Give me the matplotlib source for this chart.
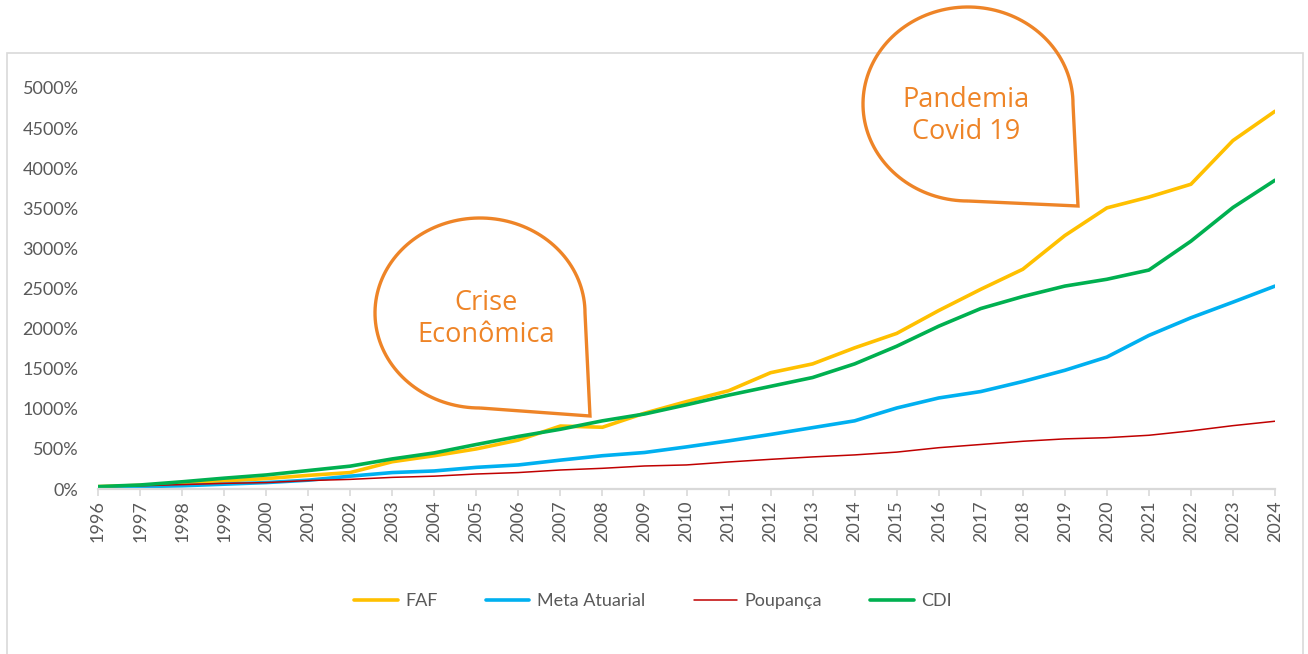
import numpy as np
import matplotlib
matplotlib.use("Agg")
import matplotlib.pyplot as plt
from matplotlib.path import Path
from matplotlib.patches import PathPatch, Rectangle

years = list(range(1996, 2025))
faf = [30, 45, 70, 100, 130, 170, 205, 340, 415, 500, 610, 785, 770, 945, 1090, 1225, 1450, 1560, 1760,
       1940, 2225, 2490, 2740, 3160, 3505, 3640, 3800, 4345, 4710]
meta = [20, 30, 40, 60, 80, 110, 160, 205, 225, 270, 300, 360, 415, 455, 525, 600, 680, 765, 850,
        1010, 1135, 1215, 1340, 1480, 1645, 1915, 2135, 2330, 2530]
poup = [25, 40, 55, 70, 80, 105, 120, 145, 160, 187, 205, 237, 258, 287, 300, 337, 370, 400, 425,
        460, 515, 555, 595, 625, 640, 670, 725, 790, 845]
cdi = [30, 50, 90, 135, 175, 230, 285, 375, 450, 555, 655, 745, 850, 935, 1050, 1170, 1280, 1390, 1560,
       1780, 2030, 2250, 2400, 2530, 2615, 2730, 3090, 3510, 3850]
series_names = ["FAF", "Meta Atuarial", "Poupança", "CDI"]
series_colors = ["#FFC000", "#00B0F0", "#C00000", "#00B050"]
series_widths = [2.6, 2.6, 1.1, 2.6]
yticks = list(range(0, 5001, 500))

W, H = 1308, 654
fig = plt.figure(figsize=(W / 100, H / 100), dpi=100)
plt.rcParams['font.family'] = ['Lato', 'DejaVu Sans']

def px(x, y):
    return (x / W, 1 - y / H)

# outer frame
fig.patches.append(Rectangle(px(7, 660), (1303 - 7) / W, (660 - 53) / H, transform=fig.transFigure,
                             fill=False, edgecolor="#D9D9D9", linewidth=1.2, zorder=0))

ax = fig.add_axes([98 / W, 1 - 489 / H, (1275 - 98) / W, (489 - 88) / H])
ax.patch.set_alpha(0)
for vals, name, col, lw in zip([faf, meta, poup, cdi], series_names, series_colors, series_widths):
    ax.plot(years, vals, color=col, linewidth=lw, label=name, solid_capstyle='round')

ax.set_xlim(1996, 2024)
ax.set_ylim(0, 5000)
ax.set_xticks(years)
ax.set_xticklabels([str(y) for y in years], rotation=90, fontsize=13, color="#595959")
ax.set_yticks(yticks)
ax.set_yticklabels([f"{v}%" for v in yticks], fontsize=13, color="#595959")
for s in ["top", "right", "left"]:
    ax.spines[s].set_visible(False)
ax.spines["bottom"].set_color("#D9D9D9")
ax.spines["bottom"].set_linewidth(1.6)
ax.tick_params(axis="y", length=0, pad=14)
ax.tick_params(axis="x", length=5, width=1.2, color="#D9D9D9", pad=3)

# speech bubbles
orange = "#EE8427"

def bubble(cx, cy, rx, ry, tip, text, tx, ty):
    t = np.linspace(np.pi / 2, 2 * np.pi, 120)
    pts = [px(cx + rx * np.cos(a), cy + ry * np.sin(a)) for a in t]
    pts.append(px(*tip))
    pts.append(px(cx, cy + ry))
    path = Path(pts)
    fig.patches.append(PathPatch(path, transform=fig.transFigure, fill=False,
                                 edgecolor=orange, linewidth=2.4, joinstyle='miter', zorder=5))
    fig.text(*px(tx, ty), text, color=orange, fontsize=19.5, ha="center", va="center",
             family=["Open Sans", "DejaVu Sans"], linespacing=1.2, zorder=6)

bubble(480, 313, 105, 95, (590, 416), "Crise\nEconômica", 486, 319)
bubble(968, 104, 105, 97, (1078, 206), "Pandemia\nCovid 19", 966, 116)

leg = fig.legend(loc="center", bbox_to_anchor=(653 / W, 1 - 601 / H), ncol=4, frameon=False,
                 fontsize=13, handlelength=2.4, handletextpad=0.4, columnspacing=2.7)
for t in leg.get_texts():
    t.set_color("#595959")

fig.savefig("out.png", dpi=100)
